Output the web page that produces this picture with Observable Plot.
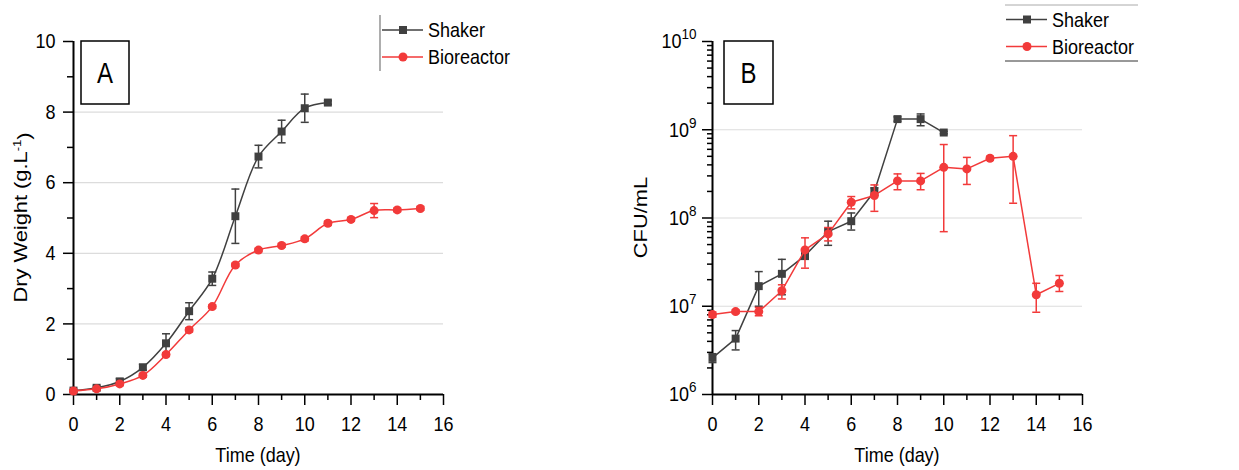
<!DOCTYPE html>
<html><head><meta charset="utf-8">
<script src="https://cdn.jsdelivr.net/npm/d3@7"></script>
<script src="https://cdn.jsdelivr.net/npm/@observablehq/plot@0.6"></script>
<style>
html,body{margin:0;padding:0;background:#fff;}
#wrap{display:flex;width:1239px;height:470px;overflow:hidden;}
</style></head><body><div id="wrap"></div>
<script>
// ---------- Panel A : dry weight (g/L) ----------
const dwShakerDays = [0,1,2,3,4,5,6,7,8,9,10,11];
const dwShaker     = [0.11,0.19,0.37,0.77,1.45,2.36,3.28,5.05,6.74,7.45,8.11,8.27];
const dwShakerErr  = [0.03,0.05,0.08,0.08,0.27,0.24,0.19,0.77,0.32,0.32,0.40,0.05];
const dwBioDays    = [0,1,2,3,4,5,6,7,8,9,10,11,12,13,14,15];
const dwBio        = [0.10,0.16,0.30,0.54,1.13,1.83,2.49,3.67,4.09,4.22,4.41,4.85,4.96,5.21,5.23,5.27];
const dwBioErr     = [0.03,0.03,0.05,0.05,0.05,0.06,0.05,0.05,0.05,0.05,0.06,0.06,0.05,0.20,0.05,0.05];

// ---------- Panel B : CFU/mL ----------
const cfuShakerDays = [0,1,2,3,4,5,6,7,8,9,10];
const cfuShaker     = [2.6e6,4.3e6,1.69e7,2.33e7,3.75e7,7.0e7,9.2e7,2.0e8,1.32e9,1.32e9,9.3e8];
const cfuShakerLow  = [2.3e6,3.2e6,1.0e7,1.35e7,3.4e7,4.9e7,7.3e7,1.8e8,1.25e9,1.11e9,9.0e8];
const cfuShakerHigh = [2.9e6,5.3e6,2.47e7,3.4e7,4.1e7,9.2e7,1.14e8,2.2e8,1.40e9,1.51e9,9.6e8];
const cfuBioDays    = [0,1,2,3,4,5,6,7,8,9,10,11,12,13,14,15];
const cfuBio        = [8.05e6,8.7e6,8.7e6,1.5e7,4.35e7,6.6e7,1.51e8,1.8e8,2.63e8,2.63e8,3.75e8,3.6e8,4.75e8,5.0e8,1.35e7,1.82e7];
const cfuBioLow     = [7.5e6,8.3e6,7.8e6,1.21e7,2.7e7,5.5e7,1.27e8,1.19e8,2.09e8,2.09e8,7.0e7,2.4e8,4.5e8,1.47e8,8.55e6,1.47e7];
const cfuBioHigh    = [8.6e6,9.1e6,9.7e6,1.75e7,5.96e7,7.8e7,1.75e8,2.37e8,3.16e8,3.2e8,6.8e8,4.86e8,5.0e8,8.57e8,1.82e7,2.23e7];

// ---------- ticks / labels ----------
const xMajor = [0,2,4,6,8,10,12,14,16];
const xMinor = [1,3,5,7,9,11,13,15];
const yMajorA = [0,2,4,6,8,10];
const yMinorA = [1,3,5,7,9];
const gridA = [2,4,6,8];
const yMajorB = [1e6,1e7,1e8,1e9,1e10];
const gridB = [1e7,1e8,1e9];
const yMinorB = [];
for (const k of [6,7,8,9]) for (const m of [2,3,4,5,6,7,8,9]) yMinorB.push(m * 10 ** k);
const seriesNames = ["Shaker","Bioreactor"];
const xLabel = "Time (day)";
const panelLabels = ["A","B"];

const FONT = "'Liberation Sans', Arial, Helvetica, sans-serif";
const GRAY = "#404040";
const RED = "#f23a3a";
const GRID = "#dcdcdc";
const STRETCH = 1.15;

const capSymbol = {draw(ctx, size){ const w = Math.sqrt(size/Math.PI); ctx.moveTo(-w,0); ctx.lineTo(w,0); }};

const shA = dwShakerDays.map((d,i)=>({day:d, v:dwShaker[i], lo:dwShaker[i]-dwShakerErr[i], hi:dwShaker[i]+dwShakerErr[i]}));
const bioA = dwBioDays.map((d,i)=>({day:d, v:dwBio[i], lo:dwBio[i]-dwBioErr[i], hi:dwBio[i]+dwBioErr[i]}));
const shB = cfuShakerDays.map((d,i)=>({day:d, v:cfuShaker[i], lo:cfuShakerLow[i], hi:cfuShakerHigh[i]}));
const bioB = cfuBioDays.map((d,i)=>({day:d, v:cfuBio[i], lo:cfuBioLow[i], hi:cfuBioHigh[i]}));

function seriesMarks(data, color, symbol, curve) {
  return [
    Plot.line(data, {x:"day", y:"v", curve, stroke: color, strokeWidth: 1.5}),
    Plot.ruleX(data, {x:"day", y1:"lo", y2:"hi", stroke: color, strokeWidth: 1.5}),
    Plot.dot(data, {x:"day", y:"lo", symbol: capSymbol, r: 4, stroke: color, strokeWidth: 1.5}),
    Plot.dot(data, {x:"day", y:"hi", symbol: capSymbol, r: 4, stroke: color, strokeWidth: 1.5}),
    Plot.dot(data, {x:"day", y:"v", symbol, r: 4.5, fill: color})
  ];
}
const axisStyle = {stroke:"black", strokeWidth:1.5, label:null, fontSize:18};

const plotA = Plot.plot({
  width: 620, height: 470,
  marginLeft: 73, marginRight: 177, marginTop: 41, marginBottom: 76,
  style: {fontFamily: FONT, fontSize: "18px", background: "white", color: "black", overflow: "visible"},
  x: {domain: [0,16]},
  y: {domain: [0,10]},
  marks: [
    Plot.ruleY(gridA, {stroke: GRID, strokeWidth: 1.2}),
    Plot.axisX(xMinor, {...axisStyle, tickSize: 6, tickFormat: () => ""}),
    Plot.axisX(xMajor, {...axisStyle, tickSize: 11, tickPadding: 12}),
    Plot.axisY(yMinorA, {...axisStyle, tickSize: 6, tickFormat: () => ""}),
    Plot.axisY(yMajorA, {...axisStyle, tickSize: 10, tickPadding: 8}),
    Plot.ruleX([0], {stroke: "black", strokeWidth: 2}),
    Plot.ruleY([0], {stroke: "black", strokeWidth: 2}),
    ...seriesMarks(shA, GRAY, "square", "catmull-rom"),
    ...seriesMarks(bioA, RED, "circle", "catmull-rom")
  ]
});

const plotB = Plot.plot({
  width: 619, height: 470,
  marginLeft: 92, marginRight: 157, marginTop: 41, marginBottom: 76,
  style: {fontFamily: FONT, fontSize: "18px", background: "white", color: "black", overflow: "visible"},
  x: {domain: [0,16]},
  y: {type: "log", domain: [1e6,1e10]},
  marks: [
    Plot.ruleY(gridB, {stroke: GRID, strokeWidth: 1.2}),
    Plot.axisX(xMinor, {...axisStyle, tickSize: 6, tickFormat: () => ""}),
    Plot.axisX(xMajor, {...axisStyle, tickSize: 11, tickPadding: 12}),
    Plot.axisY(yMinorB, {...axisStyle, tickSize: 5, tickFormat: () => ""}),
    Plot.axisY(yMajorB, {...axisStyle, tickSize: 10, tickPadding: 6, tickFormat: d => "10^" + Math.round(Math.log10(d))}),
    Plot.ruleX([0], {stroke: "black", strokeWidth: 2}),
    Plot.ruleY([1e6], {stroke: "black", strokeWidth: 2}),
    ...seriesMarks(shB, GRAY, "square", "linear"),
    ...seriesMarks(bioB, RED, "circle", "linear")
  ]
});

const wrap = document.getElementById("wrap");
wrap.appendChild(plotA);
wrap.appendChild(plotB);

// superscript tick labels on log axis
d3.select(plotB).selectAll("text").each(function(){
  const m = /^10\^(\d+)$/.exec(this.textContent);
  if (m) {
    const s = d3.select(this);
    s.text("");
    s.append("tspan").text("10");
    s.append("tspan").attr("dy", "-8").attr("font-size", "0.75em").text(m[1]);
  }
});

function decorate(plot, opts) {
  const svg = d3.select(plot);
  const sx = plot.scale("x"), sy = plot.scale("y");
  const [x0, x1] = sx.range;
  const g = svg.append("g").attr("font-family", FONT).attr("fill", "black").attr("text-anchor", "start");
  // x label
  g.append("text").attr("x", (x0 + x1) / 2).attr("y", 461).attr("text-anchor", "middle")
    .attr("font-size", 18).text(xLabel);
  // y label
  const yl = g.append("text").attr("class", "rot").attr("transform", `translate(${opts.ylx},${(sy.range[0]+sy.range[1])/2}) rotate(-90)`)
    .attr("text-anchor", "middle").attr("dy", "0.35em").attr("font-size", 19);
  opts.ylabel(yl);
  // panel box
  g.append("rect").attr("x", opts.box[0]).attr("y", 41).attr("width", opts.box[1]).attr("height", 63)
    .attr("fill", "white").attr("stroke", "black").attr("stroke-width", 1.5);
  g.append("text").attr("class", "big").attr("x", opts.box[0] + opts.box[1] / 2).attr("y", 72.5).attr("dy", "0.35em")
    .attr("text-anchor", "middle").attr("font-size", 24).text(opts.panel);
  // legend
  const L = opts.legend;
  const rows = [{name: seriesNames[0], color: GRAY, sym: "square", y: L.y[0]},
                {name: seriesNames[1], color: RED, sym: "circle", y: L.y[1]}];
  for (const r of rows) {
    g.append("line").attr("x1", L.x).attr("x2", L.x + 41).attr("y1", r.y).attr("y2", r.y)
      .attr("stroke", r.color).attr("stroke-width", 1.5);
    if (r.sym === "square") g.append("rect").attr("x", L.x + 17).attr("y", r.y - 4).attr("width", 8).attr("height", 8).attr("fill", r.color);
    else g.append("circle").attr("cx", L.x + 21).attr("cy", r.y).attr("r", 4.5).attr("fill", r.color);
    g.append("text").attr("x", L.x + 46).attr("y", r.y).attr("dy", "0.35em").attr("text-anchor", "start").attr("font-size", 18).text(r.name);
  }
  L.extra(g);
}

decorate(plotA, {
  ylx: 20, panel: panelLabels[0], box: [81, 48],
  ylabel: t => { t.append("tspan").text("Dry Weight (g.L"); t.append("tspan").attr("dy", "-0.5em").attr("font-size", "0.6em").text("-1"); t.append("tspan").attr("dy", "0.5em").text(")"); },
  legend: {x: 382, y: [30, 57], extra: g => g.append("line").attr("x1", 380).attr("x2", 380).attr("y1", 15).attr("y2", 71).attr("stroke", "#777").attr("stroke-width", 1.2)}
});
decorate(plotB, {
  ylx: 20, panel: panelLabels[1], box: [104, 49],
  ylabel: t => t.text("CFU/mL"),
  legend: {x: 386, y: [19.5, 46.5], extra: g => {
    g.append("line").attr("x1", 385).attr("x2", 518).attr("y1", 5).attr("y2", 5).attr("stroke", "#aaa").attr("stroke-width", 1);
    g.append("line").attr("x1", 385).attr("x2", 518).attr("y1", 61).attr("y2", 61).attr("stroke", "#333").attr("stroke-width", 1);
  }}
});

// the reference's lettering is drawn slightly tall and narrow: stretch each text along the page's vertical
for (const svgEl of [plotA, plotB]) {
  d3.select(svgEl).selectAll("text").each(function(){
    if (!this.textContent) return;
    const bb = this.getBBox();
    const cx = bb.x + bb.width / 2, cy = bb.y + bb.height / 2;
    const rot = this.classList.contains("rot");
    const f = this.classList.contains("big") ? 1.2 : STRETCH;
    const sx = rot ? f : 1, sy = rot ? 1 : f;
    const t = this.getAttribute("transform") || "";
    this.setAttribute("transform", `${t} translate(${cx},${cy}) scale(${sx},${sy}) translate(${-cx},${-cy})`);
  });
}
</script>
</body></html>
